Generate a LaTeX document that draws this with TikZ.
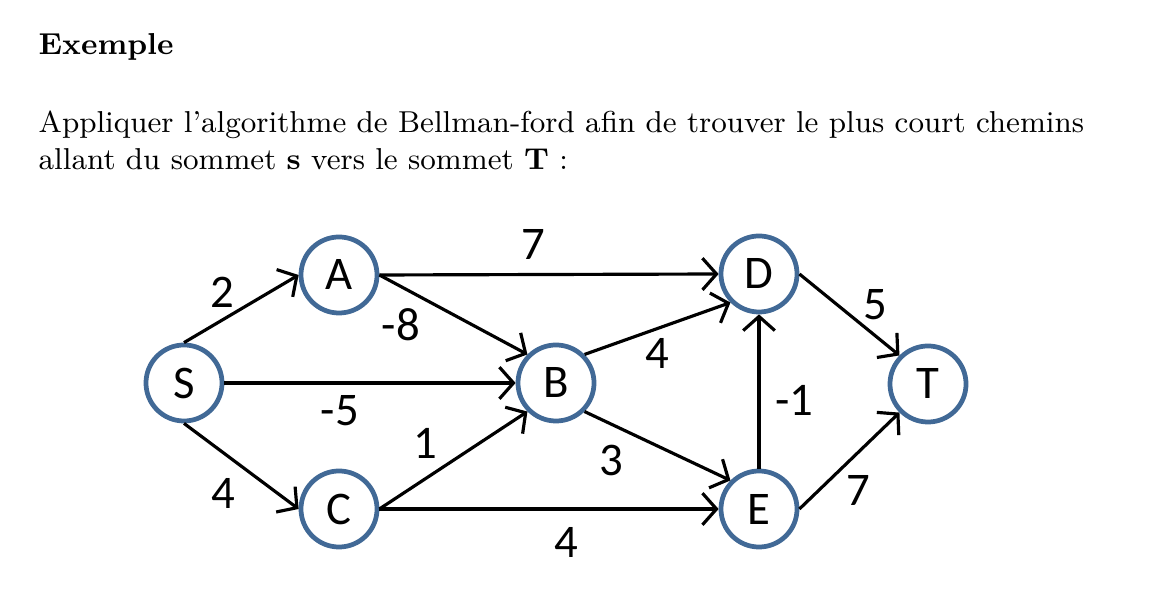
\documentclass[tikz,border=0pt]{standalone}
\usepackage{fontspec}
\newfontfamily\calib{Carlito}
\usetikzlibrary{arrows.meta}
\definecolor{nodeblue}{RGB}{65,105,150}
\tikzset{
  vertex/.style={circle,draw=nodeblue,line width=1.35pt,fill=white,minimum size=0.76cm,inner sep=0pt,font=\calib\fontsize{13.3}{14}\selectfont},
  edge/.style={line width=0.9pt,-{Straight Barb[length=4pt,width=9pt,line width=0.9pt]}},
  wlab/.style={font=\calib\fontsize{13.3}{14}\selectfont,inner sep=0pt},
  txt/.style={anchor=base west,inner sep=0pt,font=\fontsize{8.6}{10}\selectfont}
}
\begin{document}
\begin{tikzpicture}[x=0.01cm,y=-0.01cm]
\useasboundingbox (0,0) rectangle (1155,595);
\node[txt,font=\fontsize{8.6}{10}\selectfont\bfseries] (title) at (38,55) {Exemple};
\node[txt] (l1) at (38,133) {Appliquer l'algorithme de Bellman-ford afin de trouver le plus court chemins};
\node[txt] (l2) at (38,170) {allant du sommet \textbf{s} vers le sommet \textbf{T} :};

\node[vertex] (S) at (184,383) {S};
\node[vertex] (A) at (339,275) {A};
\node[vertex] (B) at (556,383) {B};
\node[vertex] (C) at (339,509) {C};
\node[vertex] (D) at (759,274) {D};
\node[vertex] (E) at (759,509) {E};
\node[vertex] (T) at (928,384) {T};

\draw[edge] (S.north) -- (A.west);
\draw[edge] (S.east) -- (B.west);
\draw[edge] (S.south) -- (C.west);
\draw[edge] (A.east) -- (D.west);
\draw[edge] (A.east) -- (B.north west);
\draw[edge] (B.north east) -- (D.south west);
\draw[edge] (B.south east) -- (E.north west);
\draw[edge] (C.east) -- (B.south west);
\draw[edge] (C.east) -- (E.west);
\draw[edge] (E.north) -- (D.south);
\draw[edge] (D.east) -- (T.north west);
\draw[edge] (E.east) -- (T.south west);

\node[wlab] (w1) at (222,292) {2};
\node[wlab] (w2) at (533,245) {7};
\node[wlab] (w3) at (401,325) {-8};
\node[wlab] (w4) at (340,411) {-5};
\node[wlab] (w5) at (657,353) {4};
\node[wlab] (w6) at (875,305) {5};
\node[wlab] (w7) at (794,400) {-1};
\node[wlab] (w8) at (425,443) {1};
\node[wlab] (w9) at (611,460) {3};
\node[wlab] (w10) at (223,493) {4};
\node[wlab] (w11) at (858,490) {7};
\node[wlab] (w12) at (566,542) {4};
\end{tikzpicture}
\end{document}
